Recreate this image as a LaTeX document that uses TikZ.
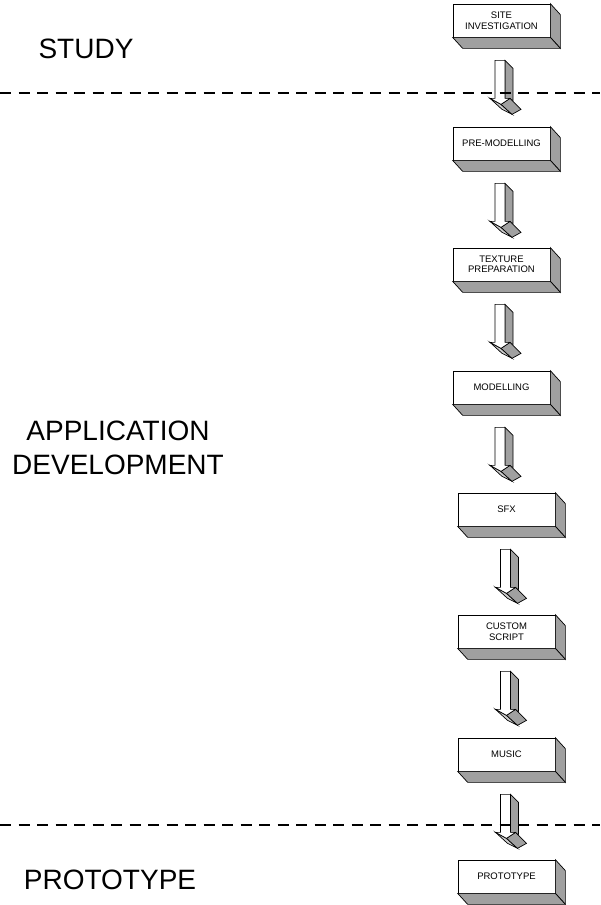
\documentclass[tikz,border=0pt]{standalone}
\usepackage{fontspec}
\setmainfont{Liberation Sans}
\usepackage{tikz}
\definecolor{sidegrey}{RGB}{160,160,160}
\definecolor{foldgrey}{RGB}{205,205,205}

\tikzset{
  blockarrow/.pic={
    \filldraw[fill=sidegrey, line width=0.7pt] (5,0) -- (13,8) -- (13,40) -- (5,38) -- cycle;
    \filldraw[fill=foldgrey, line width=0.7pt] (-10,38) -- (1,44) -- (12,54) -- (2,49) -- cycle;
    \filldraw[fill=sidegrey, line width=0.7pt] (1,44) -- (10,38) -- (21,49) -- (12,54) -- cycle;
    \filldraw[fill=white, line width=0.7pt] (-5,0) -- (5,0) -- (5,38) -- (10,38) -- (1,44) -- (-10,38) -- (-5,38) -- cycle;
  }
}

\begin{document}
\begin{tikzpicture}[x=1pt, y=-1pt,
    stage/.style={rectangle, draw, fill=white, line width=0.7pt, minimum width=97pt, minimum height=33pt,
                  inner sep=0pt, align=center, font=\fontsize{9.5}{10.5}\selectfont},
    phase/.style={align=center, font=\fontsize{28}{34}\selectfont},
    dashline/.style={line width=2.5pt, dash pattern=on 11pt off 7.5pt}]
    \useasboundingbox (0,0) rectangle (600,905);

    % left-hand phases
    \node[phase] (study) at (86,48.5) {STUDY};
    \node[phase] (appdev) at (118,447.5) {APPLICATION\\DEVELOPMENT};
    \node[phase] (prototype) at (110,880) {PROTOTYPE};

    % stages
    \node[stage] (site) at (501.5,20.5) {SITE\\INVESTIGATION};
    \node[stage] (premod) at (501.5,143.5) {PRE-MODELLING};
    \node[stage] (texture) at (501.5,264.5) {TEXTURE\\PREPARATION};
    \node[stage] (model) at (501.5,387.5) {MODELLING};
    \node[stage] (sfx) at (506.5,509.5) {SFX};
    \node[stage] (script) at (506.5,631.5) {CUSTOM\\SCRIPT};
    \node[stage] (music) at (506.5,754.5) {MUSIC};
    \node[stage] (proto) at (506.5,876.5) {PROTOTYPE};

    \foreach \n in {site,premod,texture,model,sfx,script,music,proto}{
        \filldraw[fill=sidegrey, line width=0.7pt] (\n.north east) -- ++(10,11) -- ([shift={(10,11)}]\n.south east) -- (\n.south east) -- cycle;
        \filldraw[fill=sidegrey, line width=0.7pt] (\n.south west) -- ++(10,11) -- ([shift={(10,11)}]\n.south east) -- (\n.south east) -- cycle;
    }

    % arrows between stages
    \foreach \n in {site,premod,texture,model}
        \pic at ([shift={(-1.5,23)}]\n.south) {blockarrow};
    \foreach \n in {sfx,script,music}
        \pic at ([shift={(-1,23)}]\n.south) {blockarrow};

    % phase borders
    \coordinate (studyL) at (0,93);
    \coordinate (studyR) at (600,93);
    \coordinate (protoL) at (0,825);
    \coordinate (protoR) at (600,825);
    \draw[dashline] (studyL) -- (studyR);
    \draw[dashline] (protoL) -- (protoR);
\end{tikzpicture}
\end{document}
